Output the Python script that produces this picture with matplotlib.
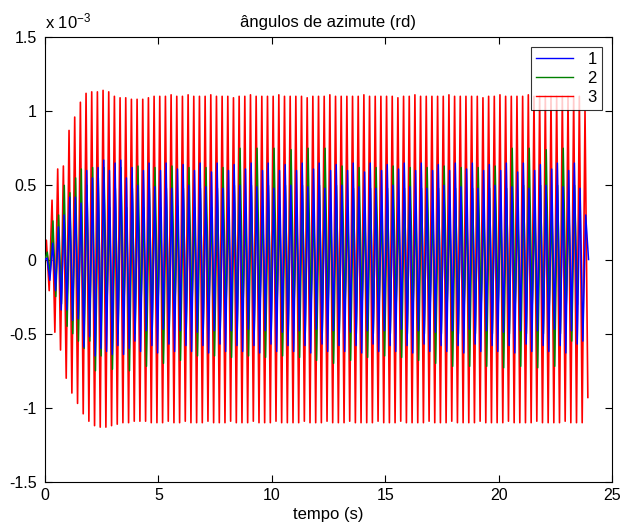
import numpy as np
import matplotlib
matplotlib.use("Agg")
import matplotlib.pyplot as plt

plt.rcParams['font.family'] = ['Liberation Sans', 'DejaVu Sans']
plt.rcParams['mathtext.fontset'] = 'custom'
plt.rcParams['mathtext.rm'] = 'Liberation Sans'
plt.rcParams['mathtext.it'] = 'Liberation Sans'
plt.rcParams['path.simplify'] = False

# ---- data (units of 1e-3 rad), alternating peak / trough values per cycle ----
red_hi = [0.13,0.40,0.61,0.63,0.87,0.96,1.06,1.12,1.13,1.13,
          1.14,1.13,1.10,1.09,1.09,1.08,1.08,1.08,1.09,1.10,
          1.10,1.10,1.11,1.10,1.10,1.11,1.10,1.10,1.10,1.11,
          1.10,1.10,1.10,1.09,1.10,1.10,1.11,1.10,1.10,1.10,
          1.10,1.11,1.10,1.10,1.10,1.10,1.09,1.10,1.10,1.10,
          1.11,1.10,1.10,1.10,1.10,1.10,1.11,1.10,1.10,1.10,
          1.10,1.10,1.09,1.10,1.10,1.11,1.10,1.10,1.10,1.10,
          1.10,1.11,1.10,1.10,1.10,1.10,1.10,1.09,1.10,1.10,
          1.11,1.10,1.10,1.10,1.10,1.11,1.10,1.10,1.10,1.10,
          1.10,1.10,1.10,1.10,1.10,1.00]
red_lo = [-0.21,-0.49,-0.61,-0.80,-0.90,-0.97,-1.04,-1.09,-1.12,-1.13,
          -1.13,-1.12,-1.11,-1.10,-1.10,-1.09,-1.09,-1.09,-1.10,-1.10,
          -1.10,-1.09,-1.10,-1.10,-1.09,-1.10,-1.10,-1.10,-1.09,-1.10,
          -1.10,-1.10,-1.09,-1.10,-1.10,-1.10,-1.09,-1.10,-1.10,-1.10,
          -1.09,-1.10,-1.10,-1.10,-1.10,-1.09,-1.10,-1.10,-1.10,-1.09,
          -1.10,-1.10,-1.10,-1.09,-1.10,-1.10,-1.10,-1.10,-1.09,-1.10,
          -1.10,-1.10,-1.09,-1.10,-1.10,-1.10,-1.10,-1.09,-1.10,-1.10,
          -1.10,-1.09,-1.10,-1.10,-1.10,-1.10,-1.09,-1.10,-1.10,-1.10,
          -1.10,-1.09,-1.10,-1.10,-1.10,-1.10,-1.09,-1.10,-1.10,-1.10,
          -1.10,-1.09,-1.10,-1.10,-1.10,-0.93]

blue_hi = [0.01,0.11,0.22,0.30,0.42,0.42,0.38,0.60,0.55,0.62,0.67,0.60,0.65,0.67,0.55,0.62,
           0.50,0.60,0.65,0.49,0.60,0.65,0.48,0.61,0.64,0.50,0.60,0.65,0.49,0.59,0.65,
           0.48,0.60,0.64,0.50,0.61,0.65,0.49,0.60,0.65,0.48,0.60,0.64,0.50,0.60,0.65,
           0.49,0.61,0.65,0.48,0.60,0.64,0.50,0.60,0.65,0.49,0.59,0.65,0.48,0.60,0.64,
           0.50,0.61,0.65,0.49,0.60,0.65,0.48,0.60,0.64,0.50,0.60,0.65,0.49,0.61,0.65,
           0.48,0.60,0.64,0.50,0.60,0.65,0.49,0.59,0.65,0.48,0.60,0.64,0.50,0.61,0.65,
           0.49,0.60,0.65,0.48,0.30]
blue_lo = [-0.14,-0.21,-0.34,-0.34,-0.41,-0.40,-0.59,-0.52,-0.65,-0.60,-0.62,-0.64,-0.58,-0.64,-0.60,-0.55,
           -0.62,-0.48,-0.58,-0.63,-0.47,-0.57,-0.62,-0.48,-0.58,-0.62,-0.49,-0.58,-0.63,-0.48,-0.57,
           -0.62,-0.48,-0.58,-0.62,-0.47,-0.58,-0.63,-0.48,-0.57,-0.62,-0.49,-0.58,-0.62,-0.48,-0.58,
           -0.63,-0.47,-0.57,-0.62,-0.48,-0.58,-0.62,-0.49,-0.58,-0.63,-0.48,-0.57,-0.62,-0.48,-0.58,
           -0.62,-0.47,-0.58,-0.63,-0.48,-0.57,-0.62,-0.49,-0.58,-0.62,-0.48,-0.58,-0.63,-0.47,-0.57,
           -0.62,-0.48,-0.58,-0.62,-0.49,-0.58,-0.63,-0.48,-0.57,-0.62,-0.48,-0.58,-0.62,-0.47,-0.58,
           -0.63,-0.48,-0.57,-0.55,0.00]

green_hi = [0.05,0.26,0.30,0.50,0.45,0.55,0.61,0.50,0.62,0.55,
            0.62,0.35,0.48,0.62,0.35,0.48,0.63,0.35,0.48,0.62,0.35,0.48,0.63,0.36,0.48,0.62,0.35,0.48,0.62,0.35,0.48,0.62,
            0.35,0.50,0.75,0.35,0.50,0.75,0.36,0.50,0.75,0.35,0.50,0.74,0.35,0.50,0.75,0.35,0.50,0.75,0.35,0.50,
            0.63,0.35,0.48,0.62,0.35,0.48,0.62,0.36,0.48,0.63,0.35,0.48,0.62,0.35,0.48,0.62,0.35,0.48,0.63,0.35,0.48,0.62,0.35,0.48,0.62,0.36,0.48,0.63,0.35,0.48,
            0.75,0.35,0.50,0.75,0.35,0.50,0.74,0.35,0.50,0.75,0.35,0.50,0.75,0.35]
green_lo = [-0.10,-0.25,-0.30,-0.45,-0.50,-0.55,-0.60,-0.55,-0.75,-0.65,
            -0.35,-0.74,-0.50,-0.35,-0.75,-0.50,-0.36,-0.72,-0.50,-0.35,-0.70,-0.50,-0.35,-0.68,-0.50,-0.35,-0.65,-0.50,
            -0.35,-0.65,-0.50,-0.36,-0.66,-0.50,-0.35,-0.65,-0.50,-0.35,-0.66,-0.50,-0.35,-0.65,-0.50,-0.35,-0.66,-0.50,
            -0.35,-0.68,-0.50,-0.36,-0.70,-0.50,-0.35,-0.68,-0.50,-0.35,-0.66,-0.50,-0.35,-0.65,-0.50,-0.36,-0.66,-0.50,
            -0.35,-0.68,-0.50,-0.35,-0.70,-0.50,-0.35,-0.72,-0.50,-0.36,-0.72,-0.50,-0.35,-0.72,-0.50,-0.35,-0.73,-0.50,
            -0.35,-0.72,-0.50,-0.35,-0.73,-0.50,-0.36,-0.72,-0.50,-0.35,-0.55,-0.30]

series_labels = ['1', '2', '3']
x_ticks = [0, 5, 10, 15, 20, 25]
y_ticks = [-1.5, -1, -0.5, 0, 0.5, 1, 1.5]
y_tick_labels = ['-1.5', '-1', '-0.5', '0', '0.5', '1', '1.5']


def zigzag(hi, lo, t0, period):
    vals = [0.0]
    for h, l in zip(hi, lo):
        vals.extend([h, l])
    vals = np.array(vals)
    t = np.concatenate([[0.0], t0 + 0.5 * period * np.arange(len(vals) - 1)])
    return t, vals


period = 0.25
t1, y1 = zigzag(blue_hi, blue_lo, 0.09, period)
t2, y2 = zigzag(green_hi, green_lo, 0.10, period)
t3, y3 = zigzag(red_hi, red_lo, 0.06, period)

fig = plt.figure(figsize=(6.22, 5.32), dpi=100)
ax = fig.add_axes([45 / 622, 1 - 482 / 532, 567 / 622, 445 / 532])

ax.plot(t1, y1, color=(0, 0, 1), lw=1.1, label=series_labels[0], zorder=4)
ax.plot(t2, y2, color=(0, 0.5, 0), lw=1.1, label=series_labels[1], zorder=3)
ax.plot(t3, y3, color=(1, 0, 0), lw=1.2, label=series_labels[2], zorder=2)

ax.set_xlim(0, 25)
ax.set_ylim(-1.5, 1.5)
ax.set_xticks(x_ticks)
ax.set_xticklabels([str(v) for v in x_ticks])
ax.set_yticks(y_ticks)
ax.set_yticklabels(y_tick_labels)
ax.tick_params(direction='in', top=True, right=True, labelsize=11.5, length=5,
               width=0.8, pad=4)
ax.tick_params(axis='y', pad=6)
for s in ax.spines.values():
    s.set_linewidth(0.8)

ax.set_title('ângulos de azimute (rd)', fontsize=12, pad=7)
ax.set_xlabel('tempo (s)', fontsize=12, labelpad=3)
ax.text(0.0, 1.012, r'x 10$^{\mathregular{-3}}$', transform=ax.transAxes,
        fontsize=12, ha='left', va='bottom')

leg = ax.legend(loc='upper right', fontsize=12, frameon=True, fancybox=False,
                edgecolor='black', handlelength=2.2, borderpad=0.3,
                labelspacing=0.25, handletextpad=0.9, borderaxespad=0.6)
leg.set_zorder(10)
leg.get_frame().set_linewidth(0.8)
for h in leg.get_lines():
    h.set_linewidth(1.0)

fig.savefig('out.png', dpi=100)
